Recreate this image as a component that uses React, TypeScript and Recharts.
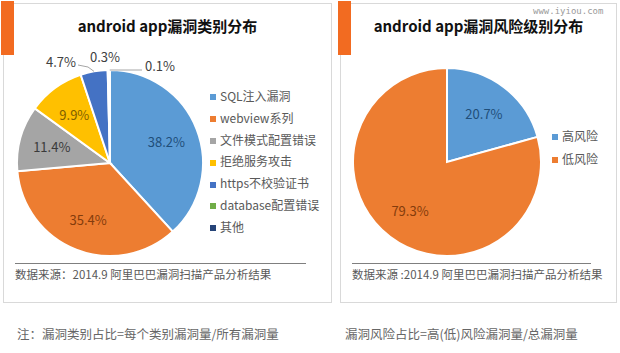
import { PieChart, Pie, Cell, Legend } from "recharts";

const categories = [
  "SQL注入漏洞",
  "webview系列",
  "文件模式配置错误",
  "拒绝服务攻击",
  "https不校验证书",
  "database配置错误",
  "其他",
];
const categoryShares = [38.2, 35.4, 11.4, 9.9, 4.7, 0.3, 0.1];

const riskLevels = ["高风险", "低风险"];
const riskShares = [20.7, 79.3];

const COLORS = ["#5B9BD5", "#ED7D31", "#A5A5A5", "#FFC000", "#4472C4", "#70AD47", "#264478"];
const LABEL_COLORS = ["#1F4E79", "#843C0C", "#3A3A3A", "#7F6000"];

const FONT = "'Noto Sans CJK SC', 'Liberation Sans', sans-serif";
const RADIAN = Math.PI / 180;

// nudges for the tiny slices that sit at 12 o'clock
const OUTSIDE_NUDGE: Record<number, { dx: number; dy: number; anchor: "start" | "end" | "middle" }> = {
  4: { dx: -34, dy: -9, anchor: "end" },
  5: { dx: -5, dy: -14, anchor: "middle" },
  6: { dx: 35, dy: -5, anchor: "start" },
};

const categoryData = categories.map((name, i) => ({ name, value: categoryShares[i] }));
const riskData = riskLevels.map((name, i) => ({ name, value: riskShares[i] }));

const keepOrder = (names: string[]) => (item: any) => names.indexOf(item.value);

const renderInside = (p: any) => {
  const { cx, cy, midAngle, outerRadius, value, index } = p;
  const r = outerRadius * 0.65;
  const x = cx + r * Math.cos(-midAngle * RADIAN);
  const y = cy + r * Math.sin(-midAngle * RADIAN);
  return (
    <text x={x} y={y} fill={LABEL_COLORS[index % LABEL_COLORS.length]} fontSize={13} fontFamily={FONT} textAnchor="middle" dominantBaseline="central">
      {`${value}%`}
    </text>
  );
};

const renderCategoryLabel = (p: any) => {
  const { cx, cy, midAngle, outerRadius, value, index } = p;
  const nudge = OUTSIDE_NUDGE[index];
  if (!nudge) return renderInside(p);
  const ex = cx + outerRadius * Math.cos(-midAngle * RADIAN);
  const ey = cy + outerRadius * Math.sin(-midAngle * RADIAN);
  const lx = cx + nudge.dx;
  const ly = cy - outerRadius + nudge.dy;
  let line = null;
  if (index === 4) {
    line = <polyline points={`${lx + 2},${ly + 4} ${lx + 12},${ly + 6} ${ex},${ey}`} fill="none" stroke="#A6A6A6" strokeWidth={1} />;
  } else if (index === 6) {
    line = <polyline points={`${ex},${ey} ${lx - 3},${ey}`} fill="none" stroke="#A6A6A6" strokeWidth={1} />;
  }
  return (
    <g>
      {line}
      <text x={lx} y={ly} fill="#404040" fontSize={13} fontFamily={FONT} textAnchor={nudge.anchor} dominantBaseline="central">
        {`${value}%`}
      </text>
    </g>
  );
};

const legendText = (value: string) => (
  <span style={{ color: "#595959", fontSize: 12, fontFamily: FONT }}>{value}</span>
);

function Panel({ left, width, title, note }: { left: number; width: number; title: string; note: string }) {
  return (
    <>
      <div
        style={{
          position: "absolute",
          left,
          top: 3,
          width,
          height: 300,
          border: "1px solid #D9D9D9",
          boxSizing: "border-box",
          background: "#fff",
        }}
      />
      <div style={{ position: "absolute", left: left - 2, top: 1, width: 13, height: 54, background: "#F26B21" }} />
      <div
        style={{
          position: "absolute",
          left,
          top: 15,
          width,
          textAlign: "center",
          fontFamily: FONT,
          fontWeight: 700,
          fontSize: 15,
          color: "#111",
        }}
      >
        {title}
      </div>
      <div style={{ position: "absolute", left: left + 12, top: 263, width: width - 38, borderTop: "1px solid #7F7F7F" }} />
      <div
        style={{
          position: "absolute",
          left: left + 12,
          top: 266,
          fontFamily: FONT,
          fontSize: 11.5,
          color: "#595959",
          whiteSpace: "nowrap",
        }}
      >
        {note}
      </div>
    </>
  );
}

export default function App() {
  return (
    <div style={{ position: "absolute", left: 0, top: 0, width: 620, height: 353, background: "#fff", overflow: "hidden" }}>
      <Panel left={3} width={329} title="android app漏洞类别分布" note="数据来源：2014.9 阿里巴巴漏洞扫描产品分析结果" />
      <Panel left={340} width={277} title="android app漏洞风险级别分布" note="数据来源 :2014.9 阿里巴巴漏洞扫描产品分析结果" />

      <div style={{ position: "absolute", left: 0, top: 0 }}>
        <PieChart width={335} height={300}>
          <Pie
            data={categoryData}
            dataKey="value"
            nameKey="name"
            cx={105}
            cy={158}
            outerRadius={93}
            startAngle={90}
            endAngle={-270}
            stroke="#fff"
            strokeWidth={2}
            labelLine={false}
            label={renderCategoryLabel}
            isAnimationActive={false}
          >
            {categoryData.map((_e, i) => (
              <Cell key={`c-${i}`} fill={COLORS[i % COLORS.length]} />
            ))}
          </Pie>
          <Legend
            layout="vertical"
            align="right"
            verticalAlign="top"
            iconType="square"
            iconSize={6}
            itemSorter={keepOrder(categories)}
            formatter={legendText}
            wrapperStyle={{ left: 210, top: 85, width: 125, lineHeight: "21.8px" }}
          />
        </PieChart>
      </div>

      <div style={{ position: "absolute", left: 335, top: 0 }}>
        <PieChart width={285} height={300}>
          <Pie
            data={riskData}
            dataKey="value"
            nameKey="name"
            cx={107}
            cy={157}
            outerRadius={94}
            startAngle={90}
            endAngle={-270}
            stroke="#fff"
            strokeWidth={2}
            labelLine={false}
            label={renderInside}
            isAnimationActive={false}
          >
            {riskData.map((_e, i) => (
              <Cell key={`r-${i}`} fill={COLORS[i % COLORS.length]} />
            ))}
          </Pie>
          <Legend
            layout="vertical"
            align="right"
            verticalAlign="top"
            iconType="square"
            iconSize={6}
            itemSorter={keepOrder(riskLevels)}
            formatter={legendText}
            wrapperStyle={{ left: 217, top: 124, width: 70, lineHeight: "23px" }}
          />
        </PieChart>
      </div>

      <div style={{ position: "absolute", left: 533, top: 6, fontFamily: "'DejaVu Sans Mono', monospace", fontSize: 9, color: "#9A9A9A" }}>
        www.iyiou.com
      </div>

      <div style={{ position: "absolute", left: 17, top: 324, fontFamily: FONT, fontSize: 12.5, color: "#666" }}>
        注：漏洞类别占比=每个类别漏洞量/所有漏洞量
      </div>
      <div style={{ position: "absolute", left: 345, top: 324, fontFamily: FONT, fontSize: 12.5, color: "#666" }}>
        漏洞风险占比=高(低)风险漏洞量/总漏洞量
      </div>
    </div>
  );
}
